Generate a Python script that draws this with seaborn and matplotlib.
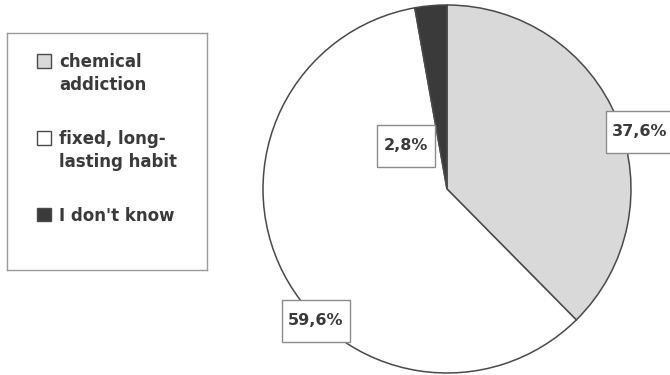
import matplotlib
matplotlib.use("Agg")
import matplotlib.pyplot as plt
from matplotlib.path import Path
from matplotlib.patches import Rectangle
import seaborn as sns

# Survey answers and their shares (%)
categories = ["chemical\naddiction", "fixed, long-\nlasting habit", "I don't know"]
shares = [37.6, 59.6, 2.8]
slice_colors = ["#d9d9d9", "#ffffff", "#3a3a3a"]

# where each percentage box sits, in pie-radius units
label_xy = [(1.049, 0.31), (-0.712, -0.717), (-0.223, 0.234)]
# first-line baselines of the legend rows, in legend-box pixels
legend_baselines = [32.5, 109.5, 186.5]

sns.set_theme(style="white")
plt.rcParams["font.family"] = ["DejaVu Sans"]

W, H = 670, 375
fig = plt.figure(figsize=(W / 100, H / 100), dpi=100)
fig.patch.set_facecolor("white")

# pie: centre (447, 189) px, radius 184 px
cx, cy, r = 447, 189, 184
ax = fig.add_axes([(cx - r) / W, (H - cy - r) / H, 2 * r / W, 2 * r / H])
wedges, _ = ax.pie(
    shares,
    colors=slice_colors,
    startangle=90,
    counterclock=False,
    wedgeprops=dict(edgecolor="#4a4a4a", linewidth=1.1),
)
for w in wedges:
    w.set_clip_on(False)
ax.set_xlim(-1, 1)
ax.set_ylim(-1, 1)
ax.set_aspect("equal")
ax.axis("off")


def label_box(x0, y0, width, height, mutation_size):
    """Rectangle with narrow side padding and tall top/bottom padding."""
    px = 0.4 * mutation_size
    py = 0.82 * mutation_size
    verts = [
        (x0 - px, y0 - py),
        (x0 + width + px, y0 - py),
        (x0 + width + px, y0 + height + py),
        (x0 - px, y0 + height + py),
        (x0 - px, y0 - py),
    ]
    return Path(verts, closed=True)


for value, (lx, ly) in zip(shares, label_xy):
    ax.text(
        lx, ly, f"{value:.1f}%".replace(".", ","),
        ha="center", va="center",
        fontsize=11.5, fontweight="bold", color="#3a3a3a",
        bbox=dict(boxstyle=label_box, fc="white", ec="#8c8c8c", lw=1.0),
        clip_on=False, zorder=5,
    )

# legend box drawn in its own pixel-scaled axes
lx0, ly0, lw, lh = 7, 33, 200, 237
lax = fig.add_axes([lx0 / W, (H - ly0 - lh) / H, lw / W, lh / H])
lax.set_xlim(0, lw)
lax.set_ylim(lh, 0)
lax.set_xticks([])
lax.set_yticks([])
lax.set_facecolor("white")
for s in lax.spines.values():
    s.set_edgecolor("#9a9a9a")
    s.set_linewidth(1.0)

fs = 12
ascent = 0.76 * fs * 100 / 72  # height of the first line above its baseline, px
for name, col, yb in zip(categories, slice_colors, legend_baselines):
    lax.add_patch(Rectangle((30, yb - 11.5), 14, 13.5, fc=col, ec="#4a4a4a", lw=1.0))
    lax.text(
        52, yb - ascent, name, ha="left", va="top",
        fontsize=fs, fontweight="bold", color="#3a3a3a", linespacing=1.4,
    )

fig.savefig("out.png", dpi=100, facecolor="white")
